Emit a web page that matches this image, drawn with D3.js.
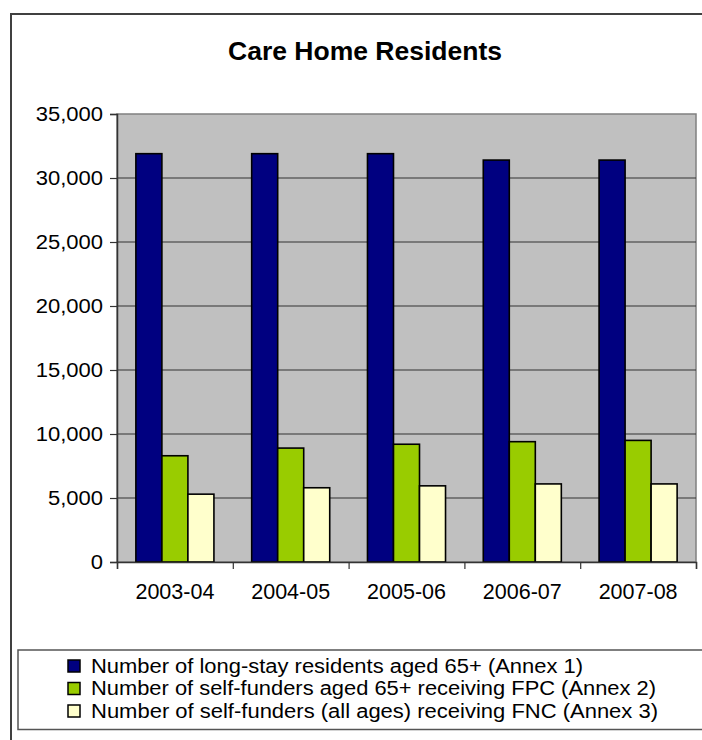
<!DOCTYPE html>
<html>
<head>
<meta charset="utf-8">
<script src="https://cdn.jsdelivr.net/npm/d3@7"></script>
<style>
  html, body { margin: 0; padding: 0; background: #ffffff; }
  svg { display: block; }
  text { font-family: "Liberation Sans", Arial, sans-serif; fill: #000; }
</style>
</head>
<body>
<svg id="chart" width="702" height="740"></svg>
<script>
const title = "Care Home Residents";
const categories = ["2003-04", "2004-05", "2005-06", "2006-07", "2007-08"];
const seriesNames = [
  "Number of long-stay residents aged 65+  (Annex 1)",
  "Number of self-funders aged 65+ receiving FPC  (Annex 2)",
  "Number of self-funders (all ages) receiving FNC  (Annex 3)"
];
const longStay = [31900, 31900, 31900, 31400, 31400];
const selfFundersFPC = [8300, 8900, 9200, 9400, 9500];
const selfFundersFNC = [5300, 5800, 5950, 6100, 6100];
const yTicks = [0, 5000, 10000, 15000, 20000, 25000, 30000, 35000];
const seriesColors = ["#000080", "#99CC00", "#FFFFCC"];

const seriesValues = [longStay, selfFundersFPC, selfFundersFNC];
const table = categories.map((c, i) => ({
  category: c,
  values: seriesValues.map((s, j) => ({ key: j, value: s[i] }))
}));

const svg = d3.select("#chart");
const plot = { left: 117, right: 696, top: 114, bottom: 562 };

// outer chart border (extends past the window at right/bottom)
svg.append("rect")
  .attr("x", 11).attr("y", 14)
  .attr("width", 740).attr("height", 760)
  .attr("fill", "#fff").attr("stroke", "#404040").attr("stroke-width", 2);

// title
svg.append("text")
  .attr("x", 365).attr("y", 60)
  .attr("text-anchor", "middle")
  .attr("font-size", 26.5).attr("font-weight", "bold")
  .text(title);

const y = d3.scaleLinear().domain([0, 35000]).range([plot.bottom, plot.top]);
const x0 = d3.scaleBand().domain(categories)
  .range([plot.left, plot.right]).paddingInner(0.326).paddingOuter(0.163);
const x1 = d3.scaleBand().domain([0, 1, 2]).range([0, x0.bandwidth()]);
const xb = d3.scaleLinear().domain([0, categories.length]).range([plot.left, plot.right]);

// plot background
svg.append("rect")
  .attr("x", plot.left).attr("y", plot.top)
  .attr("width", plot.right - plot.left).attr("height", plot.bottom - plot.top)
  .attr("fill", "#C0C0C0").attr("stroke", "#808080").attr("stroke-width", 1.5);

// gridlines
svg.append("g").selectAll("line")
  .data(yTicks.filter(t => t > 0 && t < 35000))
  .join("line")
  .attr("x1", plot.left).attr("x2", plot.right)
  .attr("y1", d => y(d)).attr("y2", d => y(d))
  .attr("stroke", "#333").attr("stroke-width", 1);

// bars
const groups = svg.append("g").selectAll("g")
  .data(table).join("g")
  .attr("transform", d => `translate(${x0(d.category)},0)`);
groups.selectAll("rect")
  .data(d => d.values).join("rect")
  .attr("x", d => x1(d.key))
  .attr("y", d => y(d.value))
  .attr("width", x1.bandwidth())
  .attr("height", d => y(0) - y(d.value))
  .attr("fill", d => seriesColors[d.key])
  .attr("stroke", "#000").attr("stroke-width", 1.6);

// y axis
const yAxis = svg.append("g")
  .attr("transform", `translate(${plot.left},0)`)
  .call(d3.axisLeft(y).tickValues(yTicks).tickSize(7).tickPadding(7)
    .tickFormat(d3.format(",")));
yAxis.selectAll("text")
  .attr("font-size", 20)
  .attr("font-family", "Liberation Sans, Arial, sans-serif")
  .each(function () {
    const w = this.getComputedTextLength();
    d3.select(this).attr("textLength", w * 1.1).attr("lengthAdjust", "spacingAndGlyphs");
  });
yAxis.select(".domain").attr("stroke", "#333").attr("stroke-width", 1.5);
yAxis.selectAll(".tick line").attr("stroke", "#333").attr("stroke-width", 1.2);

// x axis: tick marks at category boundaries
const xTickAxis = svg.append("g")
  .attr("transform", `translate(0,${plot.bottom})`)
  .call(d3.axisBottom(xb).tickValues(d3.range(categories.length + 1)).tickSize(7).tickFormat(""));
xTickAxis.select(".domain").attr("stroke", "#333").attr("stroke-width", 1.5);
xTickAxis.selectAll(".tick line").attr("stroke", "#333").attr("stroke-width", 1.2);

// x axis labels
const xLabelAxis = svg.append("g")
  .attr("transform", `translate(0,${plot.bottom})`)
  .call(d3.axisBottom(x0).tickSize(0).tickPadding(22));
xLabelAxis.select(".domain").remove();
xLabelAxis.selectAll("text").attr("font-size", 21.5).attr("font-family", "Liberation Sans, Arial, sans-serif");

// legend
const legend = svg.append("g");
legend.append("rect")
  .attr("x", 18).attr("y", 650)
  .attr("width", 700).attr("height", 79.5)
  .attr("fill", "#fff").attr("stroke", "#555").attr("stroke-width", 1.5);
const legendWidths = [492, 565, 567];
const items = legend.selectAll("g.item")
  .data(seriesNames).join("g").attr("class", "item")
  .attr("transform", (d, i) => `translate(68,${660 + i * 22.5})`);
items.append("rect")
  .attr("width", 12).attr("height", 12)
  .attr("fill", (d, i) => seriesColors[i])
  .attr("stroke", "#000").attr("stroke-width", 1.5);
items.append("text")
  .attr("x", 23).attr("y", 12.5)
  .attr("font-size", 19.5)
  .attr("textLength", (d, i) => legendWidths[i])
  .attr("lengthAdjust", "spacingAndGlyphs")
  .text(d => d);
</script>
</body>
</html>
